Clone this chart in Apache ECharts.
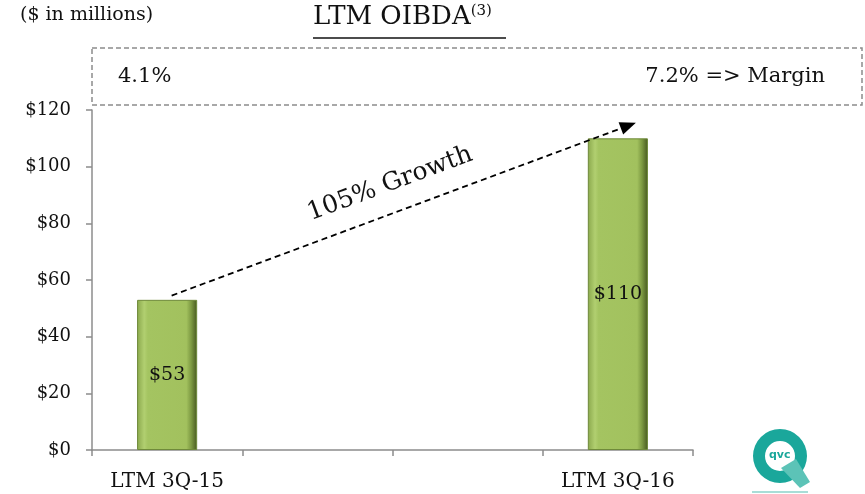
<!DOCTYPE html>
<html><head><meta charset="utf-8">
<script src="https://cdn.jsdelivr.net/npm/echarts@6/dist/echarts.min.js"></script>
<style>html,body{margin:0;padding:0;background:#fff}#c{width:865px;height:494px}</style>
</head><body><div id="c"></div>
<script>
var categories = ['LTM 3Q-15', '', '', 'LTM 3Q-16'];
var oibda = [53, null, null, 110];
var barLabels = ['$53', '', '', '$110'];
var yTicks = [0, 20, 40, 60, 80, 100, 120];
var margins = ['4.1%', '7.2% => Margin'];
var growthLabel = '105% Growth';
var arrowFrom = [0.53, 54.5];   // [category units, $M]
var arrowTo = [3.57, 114.5];

var FONT = '"DejaVu Serif", "Liberation Serif", serif';
var chart = echarts.init(document.getElementById('c'));
var barFill = {
  type: 'linear', x: 0, y: 0, x2: 1, y2: 0,
  colorStops: [
    {offset: 0, color: '#8aa84c'},
    {offset: 0.12, color: '#b1cf70'},
    {offset: 0.18, color: '#a4c461'},
    {offset: 0.82, color: '#a2c15e'},
    {offset: 0.9, color: '#7d9a42'},
    {offset: 1, color: '#46571f'}
  ]
};
chart.setOption({
  animation: false,
  grid: {left: 92, right: 172, top: 110, bottom: 44},
  xAxis: [{
    type: 'category', data: categories,
    axisLine: {lineStyle: {color: '#8c8c8c', width: 1.5}},
    axisTick: {show: true, length: 6, lineStyle: {color: '#8c8c8c', width: 1.5}},
    axisLabel: {color: '#111', fontFamily: FONT, fontSize: 20, margin: 22}
  }, {
    type: 'value', min: 0, max: 4, show: false
  }],
  yAxis: {
    type: 'value', min: yTicks[0], max: yTicks[yTicks.length - 1], interval: 20,
    splitLine: {show: false},
    axisLine: {show: true, lineStyle: {color: '#8c8c8c', width: 1.5}},
    axisTick: {show: true, length: 6, lineStyle: {color: '#8c8c8c', width: 1.5}},
    axisLabel: {color: '#111', fontFamily: FONT, fontSize: 18, margin: 21,
      formatter: function (v) { return '$' + v; }}
  },
  series: [{
    type: 'bar', data: oibda, barWidth: '40%',
    itemStyle: {color: barFill, borderColor: '#6f8a3a', borderWidth: 1},
    label: {show: true, position: 'inside', color: '#111', fontFamily: FONT, fontSize: 19,
      formatter: function (p) { return barLabels[p.dataIndex]; }}
  }, {
    type: 'line', xAxisIndex: 1, data: [], silent: true,
    markLine: {
      silent: true, symbol: ['none', 'triangle'], symbolSize: [13, 16],
      lineStyle: {color: '#000', type: [6, 4], width: 1.8},
      label: {show: true, position: 'insideMiddleTop', formatter: growthLabel,
        color: '#111', fontFamily: FONT, fontSize: 25, distance: 16},
      data: [[{coord: arrowFrom}, {coord: arrowTo}]]
    }
  }],
  graphic: [
    {type: 'text', left: 20, top: 6, style: {text: '($ in millions)', font: '19px ' + FONT, fill: '#111'}},
    {type: 'text', left: 313, top: 4, style: {
      text: '{t|LTM OIBDA}{s|(3)}', fill: '#111',
      rich: {t: {fontSize: 26, fontFamily: FONT, fill: '#111'},
             s: {fontSize: 15, fontFamily: FONT, fill: '#111', verticalAlign: 'top', padding: [0,0,11,0]}}}},
    {type: 'line', shape: {x1: 313, y1: 38, x2: 506, y2: 38}, style: {stroke: '#111', lineWidth: 1.5}},
    {type: 'rect', shape: {x: 92, y: 48, width: 770, height: 57},
      style: {fill: 'none', stroke: '#8c8c8c', lineWidth: 1.5, lineDash: [5, 3]}},
    {type: 'text', left: 118, top: 66, style: {text: margins[0], font: '21px ' + FONT, fill: '#111'}},
    {type: 'text', right: 40, top: 66, style: {text: margins[1], font: '21px ' + FONT, fill: '#111', textAlign: 'right'}},
    {type: 'ring', shape: {cx: 780, cy: 456, r: 27, r0: 15}, style: {fill: '#1aa79b'}},
    {type: 'polygon', shape: {points: [[781, 468], [796, 459], [810, 482], [800, 488]]}, style: {fill: '#5cc3b7'}},
    {type: 'text', left: 769, top: 450, style: {text: 'qvc', font: 'bold 11px "DejaVu Sans", sans-serif', fill: '#1aa79b'}},
    {type: 'line', shape: {x1: 752, y1: 492, x2: 808, y2: 492}, style: {stroke: '#a9ddd7', lineWidth: 2}}
  ]
});
</script></body></html>
